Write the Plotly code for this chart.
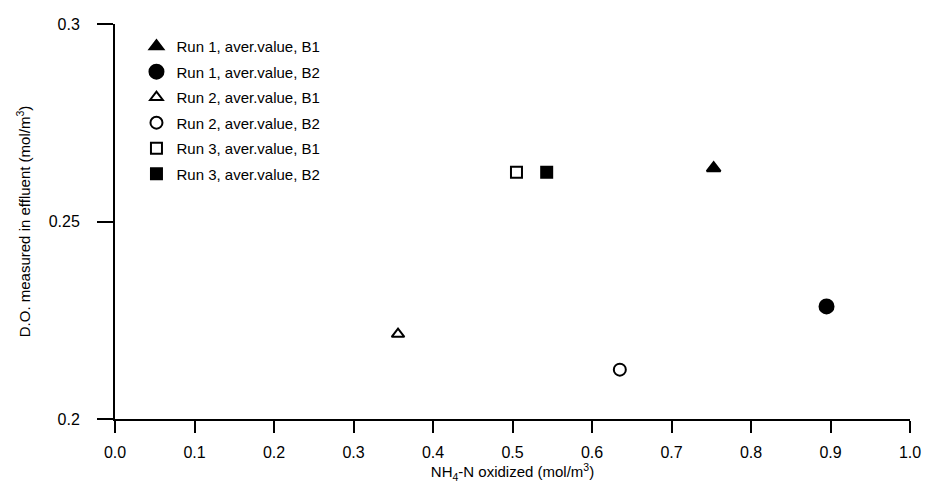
import plotly.graph_objects as go

series_names = [
    "Run 1, aver.value, B1",
    "Run 1, aver.value, B2",
    "Run 2, aver.value, B1",
    "Run 2, aver.value, B2",
    "Run 3, aver.value, B1",
    "Run 3, aver.value, B2",
]
nh4_oxidized = [0.753, 0.895, 0.356, 0.635, 0.505, 0.543]
do_effluent = [0.2635, 0.2285, 0.2215, 0.2125, 0.2625, 0.2625]
symbols = ["triangle-up", "circle", "triangle-up-open", "circle-open", "square-open", "square"]
sizes = [12, 14, 11, 12, 11, 11]

x_ticks = [0.0, 0.1, 0.2, 0.3, 0.4, 0.5, 0.6, 0.7, 0.8, 0.9, 1.0]
y_ticks = [0.2, 0.25, 0.3]
y_tick_labels = ["0.2", "0.25", "0.3"]

fig = go.Figure()
for i, name in enumerate(series_names):
    fig.add_trace(go.Scatter(
        x=[nh4_oxidized[i]], y=[do_effluent[i]], mode="markers", name=name,
        legendgroup=name,
        marker=dict(symbol=symbols[i], size=sizes[i], color="black",
                    line=dict(color="black", width=2)),
    ))

font = dict(family="Liberation Sans, Arial, sans-serif", color="black")
fig.update_layout(
    width=933, height=496,
    margin=dict(l=115, r=18, t=24, b=77),
    paper_bgcolor="white", plot_bgcolor="white",
    font=dict(size=15, **font),
    showlegend=True,
    legend=dict(x=0.027, y=0.985, xanchor="left", yanchor="top",
                font=dict(size=15, **font), tracegroupgap=3,
                bgcolor="rgba(0,0,0,0)", itemsizing="trace"),
    xaxis=dict(range=[0, 1.0], tickvals=x_ticks, tickformat=".1f",
               showline=True, linecolor="black", linewidth=2,
               ticks="outside", ticklen=12, tickwidth=2, tickcolor="black",
               ticklabelstandoff=6,
               showgrid=False, zeroline=False, tickfont=dict(size=16, **font),
               title=dict(text="NH<sub>4</sub>-N oxidized (mol/m<sup>3</sup>)",
                          font=dict(size=15, **font), standoff=4)),
    yaxis=dict(range=[0.2, 0.3], tickvals=y_ticks, ticktext=y_tick_labels,
               showline=True, linecolor="black", linewidth=2,
               ticks="outside", ticklen=16, tickwidth=2, tickcolor="black",
               ticklabelstandoff=14,
               showgrid=False, zeroline=False, tickfont=dict(size=16, **font),
               title=dict(text="D.O. measured in effluent (mol/m<sup>3</sup>)",
                          font=dict(size=15, **font), standoff=14)),
)

fig.write_html("out.html")
